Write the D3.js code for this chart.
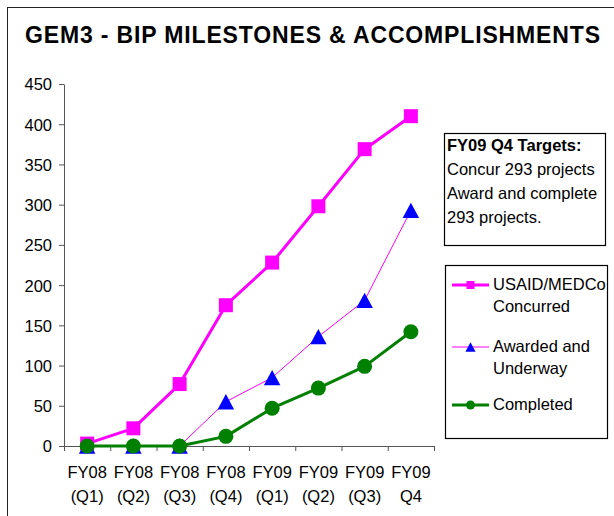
<!DOCTYPE html>
<html>
<head>
<meta charset="utf-8">
<script src="https://cdn.jsdelivr.net/npm/d3@7"></script>
<style>
  body { margin: 0; background: #fff; }
  svg { display: block; font-family: 'Liberation Sans', Arial, sans-serif; }
</style>
</head>
<body>
<div class="chart"></div>
<script>
// data
const quarters = ['FY08\n(Q1)', 'FY08\n(Q2)', 'FY08\n(Q3)', 'FY08\n(Q4)', 'FY09\n(Q1)', 'FY09\n(Q2)', 'FY09\n(Q3)', 'FY09\nQ4']
const concurred = [3, 22, 77, 175, 228, 298, 369, 410]
const awarded = [0, 0, 0, 55, 85, 136, 181, 293]
const completed = [0, 0, 0, 12, 47, 72, 99, 142]
const yTicks = [0, 50, 100, 150, 200, 250, 300, 350, 400, 450]
const titleText = 'GEM3 - BIP MILESTONES & ACCOMPLISHMENTS'
const targetLines = ['FY09 Q4 Targets:', 'Concur 293 projects', 'Award and complete', '293 projects.']
const seriesNames = [['USAID/MEDCo', 'Concurred'], ['Awarded and', 'Underway'], ['Completed']]

const FS = '16.5px'

// triangle centred on its bounding box (like Excel markers)
const triBox = {
    draw(ctx, size) {
        const w = Math.sqrt(size) * 1.1, h = w * 0.93
        ctx.moveTo(0, -h / 2)
        ctx.lineTo(w / 2, h / 2)
        ctx.lineTo(-w / 2, h / 2)
        ctx.closePath()
    }
}

const series = [
    { values: concurred, color: '#ff00ff', width: 3, symbol: d3.symbolSquare, size: 196, legSize: 64, fill: '#ff00ff' },
    { values: awarded, color: '#ff00ff', width: 1, symbol: triBox, size: 225, legSize: 85, fill: '#0000ff' },
    { values: completed, color: '#008000', width: 3, symbol: d3.symbolCircle, size: 177, legSize: 64, fill: '#008000' }
]

const W = 614, H = 516
const svg = d3.select('.chart').append('svg').attr('width', W).attr('height', H)

// outer frame
svg.append('rect').attr('x', 7.5).attr('y', 7.5).attr('width', 700).attr('height', 600)
    .attr('fill', 'none').attr('stroke', '#222').attr('stroke-width', 1)

// title
svg.append('text').attr('x', 25).attr('y', 43)
    .attr('textLength', 575).attr('lengthAdjust', 'spacing')
    .style('font-size', '23px').style('font-weight', 'bold').style('fill', '#000')
    .text(titleText)

// scales
const xScale = d3.scaleBand().domain(quarters).range([64, 434]).padding(0)
const yScale = d3.scaleLinear().domain([0, 450]).range([446, 84])
const xEdges = d3.scaleLinear().domain([0, quarters.length]).range([64, 434])

// y axis
const yAxis = svg.append('g').attr('transform', 'translate(64,0)')
    .call(d3.axisLeft(yScale).tickValues(yTicks).tickSize(5).tickSizeOuter(0).tickPadding(7))
yAxis.selectAll('text').style('font-size', FS).style('fill', '#000').attr('dy', '0.36em')
yAxis.selectAll('line, path').attr('stroke', '#555')

// x axis: boundary ticks
const xAxisTicks = svg.append('g').attr('transform', 'translate(0,446)')
    .call(d3.axisBottom(xEdges).tickValues(d3.range(quarters.length + 1)).tickSize(5).tickSizeOuter(0).tickFormat(''))
xAxisTicks.selectAll('line, path').attr('stroke', '#555')

// x axis: labels
const xAxisLabels = svg.append('g').attr('transform', 'translate(0,446)')
    .call(d3.axisBottom(xScale).tickSize(0).tickFormat(''))
xAxisLabels.select('.domain').remove()
xAxisLabels.selectAll('.tick text').each(function (d) {
    const t = d3.select(this).attr('y', 0).attr('dy', null)
    d.split('\n').forEach((line, i) => {
        t.append('tspan').attr('x', 0).attr('y', 32 + i * 24).text(line)
    })
}).style('font-size', FS).style('fill', '#000')

// lines + markers
const cx = (d, i) => xScale(quarters[i]) + xScale.bandwidth() / 2
const lineGen = d3.line().x(cx).y(d => yScale(d))
const chart = svg.append('g').attr('class', 'line-chart')
series.forEach(s => {
    chart.append('path').attr('d', lineGen(s.values))
        .attr('fill', 'none').attr('stroke', s.color).attr('stroke-width', s.width)
        .attr('stroke-linejoin', 'round')
})
series.forEach(s => {
    chart.append('g').selectAll('path').data(s.values).enter().append('path')
        .attr('transform', (d, i) => `translate(${cx(d, i)},${yScale(d)})`)
        .attr('d', d3.symbol().type(s.symbol).size(s.size))
        .attr('fill', s.fill)
})

// targets box
const tb = svg.append('g')
tb.append('rect').attr('x', 444.5).attr('y', 133.5).attr('width', 161).attr('height', 112)
    .attr('fill', '#fff').attr('stroke', '#000').attr('stroke-width', 1.2)
tb.selectAll('text').data(targetLines).enter().append('text')
    .attr('x', 447).attr('y', (d, i) => 150.5 + i * 24.3)
    .style('font-size', FS).style('fill', '#000')
    .style('font-weight', (d, i) => i === 0 ? 'bold' : 'normal')
    .text(d => d)

// legend
const lg = svg.append('g')
lg.append('rect').attr('x', 445.5).attr('y', 265.5).attr('width', 162).attr('height', 173)
    .attr('fill', '#fff').attr('stroke', '#000').attr('stroke-width', 1.2)
const legY = [285, 347, 405]
series.forEach((s, k) => {
    const y = legY[k]
    lg.append('line').attr('x1', 452).attr('x2', 489).attr('y1', y).attr('y2', y)
        .attr('stroke', s.color).attr('stroke-width', s.width)
    lg.append('path').attr('transform', `translate(470.5,${y})`)
        .attr('d', d3.symbol().type(s.symbol).size(s.legSize)).attr('fill', s.fill)
    seriesNames[k].forEach((name, j) => {
        lg.append('text').attr('x', 493).attr('y', y + 4.5 + j * 22)
            .style('font-size', FS).style('fill', '#000').text(name)
    })
})
</script>
</body>
</html>
